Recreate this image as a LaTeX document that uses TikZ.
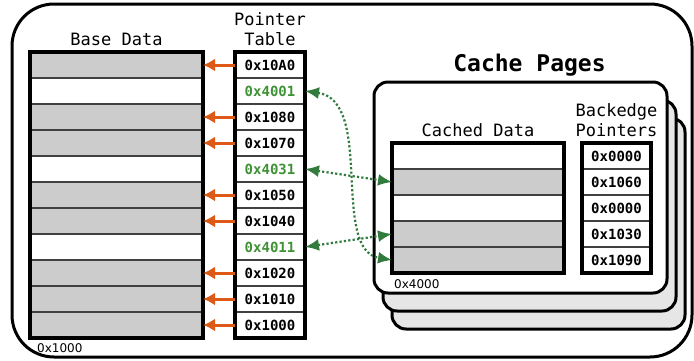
\documentclass[tikz,border=0pt]{standalone}
\usepackage{fontspec}
\setmonofont{DejaVu Sans Mono}
\setsansfont{DejaVu Sans}
\usetikzlibrary{arrows.meta, positioning}

\definecolor{cellgray}{RGB}{204,204,204}
\definecolor{pagegray}{RGB}{230,230,230}
\definecolor{ptrorange}{RGB}{222,88,22}
\definecolor{linkgreen}{RGB}{50,122,62}
\definecolor{addrgreen}{RGB}{62,145,52}

\begin{document}
\begin{tikzpicture}[x=1pt, y=-1pt]
	\tikzset{
		cell/.style={rectangle, draw=black!75, line width=1.3pt, minimum height=26pt, inner sep=0pt, outer sep=0pt, font=\ttfamily\bfseries\fontsize{14}{16}\selectfont},
		tableframe/.style={draw=black, line width=3.5pt},
		page/.style={rectangle, rounded corners=14pt, draw=black, line width=3pt, minimum width=293pt, minimum height=211pt, inner sep=0pt},
		caption/.style={align=center, inner sep=0pt, font=\ttfamily\fontsize{17}{20}\selectfont},
		title/.style={inner sep=0pt, font=\ttfamily\bfseries\fontsize{23}{26}\selectfont},
		addr/.style={inner sep=0pt, font=\sffamily\fontsize{12}{14}\selectfont},
		ptrarrow/.style={->, >={Latex[length=12pt, width=13pt]}, draw=ptrorange, line width=3pt},
		link/.style={<->, >={Latex[length=14pt, width=12pt]}, draw=linkgreen, line width=2.2pt, dash pattern=on 2.2pt off 2.2pt}
	}
	\useasboundingbox (0,0) rectangle (694,360);
	\draw[line width=3pt, rounded corners=42pt] (12,4) rectangle (692,357);

	% stack of cache pages, back to front
	\node[page, fill=pagegray] (page3) at (538.5,223.5) {};
	\node[page, fill=pagegray] (page2) at (529.5,205.5) {};
	\node[page, fill=white] (page1) at (520.5,187.5) {};
	\node[title, anchor=base] (cachetitle) at (529.5,71.5) {Cache Pages};

	% base data and its pointer table
	\foreach \addr/\shade/\ink [count=\i] in {0x10A0/cellgray/black, 0x4001/white/addrgreen, 0x1080/cellgray/black, 0x1070/cellgray/black, 0x4031/white/addrgreen, 0x1050/cellgray/black, 0x1040/cellgray/black, 0x4011/white/addrgreen, 0x1020/cellgray/black, 0x1010/cellgray/black, 0x1000/cellgray/black}{
		\node[cell, fill=\shade, minimum width=173pt] (b\i) at (116.5, 39+26*\i) {};
		\node[cell, text=\ink, minimum width=70pt, right=32pt of b\i] (p\i) {\addr};
	}
	\draw[tableframe] (b1.north west) rectangle (b11.south east);
	\draw[tableframe] (p1.north west) rectangle (p11.south east);
	\node[caption, above=6pt of b1] (basecap) {Base Data};
	\node[caption, above=6pt of p1] (ptrcap) {Pointer\\Table};
	\node[addr, below right=5pt and 7pt of b11.south west] (baseaddr) {0x1000};

	% cached data and backedge pointers
	\foreach \back/\shade [count=\i] in {0x0000/white, 0x1060/cellgray, 0x0000/white, 0x1030/cellgray, 0x1090/cellgray}{
		\node[cell, fill=\shade, minimum width=172pt] (c\i) at (478, 130+26*\i) {};
		\node[cell, minimum width=69pt, right=18pt of c\i] (e\i) {\back};
	}
	\draw[tableframe] (c1.north west) rectangle (c5.south east);
	\draw[tableframe] (e1.north west) rectangle (e5.south east);
	\node[caption, above=6pt of c1] (cachedcap) {Cached Data};
	\node[caption, above=6pt of e1] (backcap) {Backedge\\Pointers};
	\node[addr, below right=6pt and 2pt of c5.south west] (pageaddr) {0x4000};

	% pointers into base data
	\foreach \i in {1,3,4,6,7,9,10,11}
		\draw[ptrarrow] (p\i.west) -- (b\i.east);

	% pointers into the cache, with backedges
	\draw[link] (p2.east) .. controls +(70,10) and +(-62,-10) .. (c5.west);
	\draw[link] (p5.east) -- (c2.west);
	\draw[link] (p8.east) -- (c4.west);
\end{tikzpicture}
\end{document}
